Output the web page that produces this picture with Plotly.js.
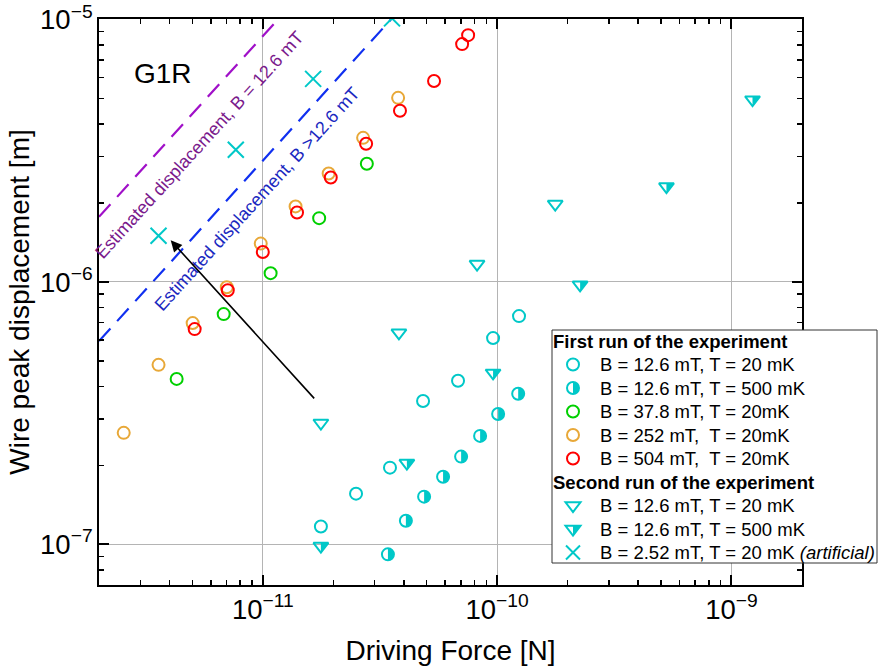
<!DOCTYPE html>
<html>
<head>
<meta charset="utf-8">
<script src="https://cdn.plot.ly/plotly-3.0.1.min.js"></script>
<style>html,body{margin:0;padding:0;background:#fff;}#chart{width:883px;height:671px;}</style>
</head>
<body>
<div id="chart"></div>
<script>
// ---- data ----
// First run
const run1_126_20mK_F  = [1.77e-11, 2.50e-11, 3.49e-11, 4.83e-11, 6.81e-11, 9.61e-11, 1.24e-10];
const run1_126_20mK_D  = [1.17e-7, 1.56e-7, 1.96e-7, 3.52e-7, 4.20e-7, 6.11e-7, 7.41e-7];
const run1_126_500mK_F = [3.42e-11, 4.08e-11, 4.88e-11, 5.88e-11, 7.02e-11, 8.46e-11, 1.01e-10, 1.23e-10];
const run1_126_500mK_D = [9.16e-8, 1.23e-7, 1.52e-7, 1.81e-7, 2.16e-7, 2.59e-7, 3.14e-7, 3.75e-7];
const run1_378_F = [4.29e-12, 6.81e-12, 1.08e-11, 1.74e-11, 2.78e-11];
const run1_378_D = [4.27e-7, 7.54e-7, 1.08e-6, 1.75e-6, 2.82e-6];
const run1_252_F = [2.55e-12, 3.59e-12, 5.02e-12, 7.02e-12, 9.80e-12, 1.38e-11, 1.91e-11, 2.68e-11, 3.78e-11];
const run1_252_D = [2.66e-7, 4.83e-7, 6.97e-7, 9.55e-7, 1.40e-6, 1.94e-6, 2.59e-6, 3.54e-6, 5.03e-6];
const run1_504_F = [5.12e-12, 7.09e-12, 1.00e-11, 1.40e-11, 1.95e-11, 2.76e-11, 3.85e-11, 5.38e-11, 7.09e-11, 7.52e-11];
const run1_504_D = [6.61e-7, 9.30e-7, 1.30e-6, 1.84e-6, 2.50e-6, 3.36e-6, 4.49e-6, 5.83e-6, 8.06e-6, 8.72e-6];
// Second run
const run2_126_20mK_F  = [1.77e-11, 3.81e-11, 8.21e-11, 1.77e-10];
const run2_126_20mK_D  = [2.90e-7, 6.40e-7, 1.17e-6, 1.98e-6];
const run2_126_500mK_F = [1.77e-11, 4.12e-11, 9.61e-11, 2.26e-10, 5.28e-10, 1.23e-9];
const run2_126_500mK_D = [0.985e-7, 2.04e-7, 4.50e-7, 9.75e-7, 2.31e-6, 4.95e-6];
const run2_252_art_F = [3.59e-12, 7.67e-12, 1.64e-11, 3.56e-11];
const run2_252_art_D = [1.50e-6, 3.19e-6, 5.94e-6, 1.01e-5];
// Estimated displacement lines
const est126_F = [2e-12, 1.16e-11];
const est126_D = [1.77e-6, 1e-5];
const estHigh_F = [2e-12, 3.52e-11];
const estHigh_D = [5.95e-7, 1e-5];

// labels
const names = [
  'B = 12.6 mT, T = 20 mK',
  'B = 12.6 mT, T = 500 mK',
  'B = 37.8 mT, T = 20mK',
  'B = 252 mT,\u00a0 T = 20mK',
  'B = 504 mT,\u00a0 T = 20mK',
  'B = 12.6 mT, T = 20 mK',
  'B = 12.6 mT, T = 500 mK',
  'B = 2.52 mT, T = 20 mK <i>(artificial)</i>'
];
const groupTitles = ['First run of the experiment', 'Second run of the experiment'];

const CYAN = '#00c8c8', GREEN = '#00d000', ORANGE = '#e8a838', RED = '#ff0000';
const FONT = 'Arial, "Liberation Sans", sans-serif';

// symbol paths (pixel offsets, y up)
const K = (0.5523 * 6).toFixed(3);
const HALF_CIRCLE = `M0,6 C${K},6 6,${K} 6,0 C6,-${K} ${K},-6 0,-6 Z`;
const HALF_TRI = 'M0,3.25 L7.5,3.25 L0,-6.5 Z';
const TRI = 'M-7.5,3.25 L7.5,3.25 L0,-6.5 Z';
const XPATH = 'M-7,-7 L7,7 M-7,7 L7,-7';

function pshape(xref, yref, xa, ya, path, fill, lineColor, lw) {
  return {type: 'path', xref, yref, xsizemode: 'pixel', ysizemode: 'pixel',
          xanchor: xa, yanchor: ya, path, fillcolor: fill || 'rgba(0,0,0,0)',
          line: {width: lw || 0, color: lineColor || 'rgba(0,0,0,0)'}, layer: 'above'};
}
function cshape(xref, yref, xa, ya, color) {
  return {type: 'circle', xref, yref, xsizemode: 'pixel', ysizemode: 'pixel',
          xanchor: xa, yanchor: ya, x0: -6, x1: 6, y0: -6, y1: 6,
          fillcolor: 'rgba(0,0,0,0)', line: {width: 2, color}, layer: 'above'};
}

function openCircle(x, y, color, name) {
  return {x, y, name, type: 'scatter', mode: 'markers',
    marker: {symbol: 'circle-open', size: 12, color: color, line: {width: 2, color: color}}};
}

const traces = [
  {x: est126_F, y: est126_D, type: 'scatter', mode: 'lines', hoverinfo: 'skip',
   line: {color: '#a010c8', width: 2.2, dash: '17px,10px'}},
  {x: estHigh_F, y: estHigh_D, type: 'scatter', mode: 'lines', hoverinfo: 'skip',
   line: {color: '#1030f0', width: 2.2, dash: '17px,10px'}},
  openCircle(run1_126_20mK_F, run1_126_20mK_D, CYAN, names[0]),
  openCircle(run1_126_500mK_F, run1_126_500mK_D, CYAN, names[1]),
  openCircle(run1_378_F, run1_378_D, GREEN, names[2]),
  openCircle(run1_252_F, run1_252_D, ORANGE, names[3]),
  openCircle(run1_504_F, run1_504_D, RED, names[4]),
  {x: run2_126_20mK_F, y: run2_126_20mK_D, name: names[5], type: 'scatter', mode: 'markers',
   marker: {symbol: 'triangle-down-open', size: 13, color: CYAN, line: {width: 2, color: CYAN}}},
  {x: run2_126_500mK_F, y: run2_126_500mK_D, name: names[6], type: 'scatter', mode: 'markers',
   marker: {symbol: 'triangle-down-open', size: 13, color: CYAN, line: {width: 2, color: CYAN}}},
  {x: run2_252_art_F, y: run2_252_art_D, name: names[7], type: 'scatter', mode: 'markers',
   marker: {symbol: 'x-thin', size: 16, color: CYAN, line: {width: 2, color: CYAN}}}
];

// half fills of the half-filled series, anchored at each data point
const shapes = []
  .concat(run1_126_500mK_F.map((f, i) => pshape('x', 'y', f, run1_126_500mK_D[i], HALF_CIRCLE, CYAN)))
  .concat(run2_126_500mK_F.map((f, i) => pshape('x', 'y', f, run2_126_500mK_D[i], HALF_TRI, CYAN)));

// ---- legend box (drawn with shapes + annotations) ----
const M = {l: 99, r: 81, t: 19, b: 86}, W = 883, H = 671;
const PW = W - M.l - M.r, PH = H - M.t - M.b;
const px = v => (v - M.l) / PW;          // pixel x -> paper
const py = v => 1 - (v - M.t) / PH;      // pixel y -> paper
const LEG = {left: 552, right: 877, top: 330, bottom: 563, row0: 341, rowH: 23.5, symX: 573, textX: 598, titleX: 551};
const annotations = [];
shapes.push({type: 'rect', xref: 'paper', yref: 'paper', layer: 'above',
  x0: px(LEG.left), x1: px(LEG.right), y0: py(LEG.bottom), y1: py(LEG.top),
  fillcolor: '#fff', line: {width: 1, color: '#333'}});
const legendRows = [
  {title: groupTitles[0]},
  {name: names[0], sym: 'circle', color: CYAN},
  {name: names[1], sym: 'halfcircle', color: CYAN},
  {name: names[2], sym: 'circle', color: GREEN},
  {name: names[3], sym: 'circle', color: ORANGE},
  {name: names[4], sym: 'circle', color: RED},
  {title: groupTitles[1]},
  {name: names[5], sym: 'tri', color: CYAN},
  {name: names[6], sym: 'halftri', color: CYAN},
  {name: names[7], sym: 'x', color: CYAN}
];
legendRows.forEach(function (r, i) {
  const yy = py(LEG.row0 + i * LEG.rowH);
  if (r.title) {
    annotations.push({xref: 'paper', yref: 'paper', x: px(LEG.titleX), y: yy, xanchor: 'left', yanchor: 'middle',
      text: '<b>' + r.title + '</b>', showarrow: false, font: {family: FONT, size: 18.5, color: '#000'}});
    return;
  }
  const xx = px(LEG.symX);
  if (r.sym === 'circle' || r.sym === 'halfcircle') shapes.push(cshape('paper', 'paper', xx, yy, r.color));
  if (r.sym === 'halfcircle') shapes.push(pshape('paper', 'paper', xx, yy, HALF_CIRCLE, r.color));
  if (r.sym === 'tri' || r.sym === 'halftri') shapes.push(pshape('paper', 'paper', xx, yy, TRI, null, r.color, 2));
  if (r.sym === 'halftri') shapes.push(pshape('paper', 'paper', xx, yy, HALF_TRI, r.color));
  if (r.sym === 'x') shapes.push(pshape('paper', 'paper', xx, yy, XPATH, null, r.color, 2));
  annotations.push({xref: 'paper', yref: 'paper', x: px(LEG.textX), y: yy, xanchor: 'left', yanchor: 'middle',
    text: r.name, showarrow: false, font: {family: FONT, size: 18.5, color: '#000'}});
});

annotations.push(
  {xref: 'x', yref: 'y', x: -11.427, y: -5.207, text: 'G1R', showarrow: false,
   font: {family: FONT, size: 28, color: '#000'}},
  {xref: 'x', yref: 'y', x: -11.27, y: -5.48, text: 'Estimated displacement, B = 12.6 mT', showarrow: false,
   textangle: -47.7, font: {family: FONT, size: 18, color: '#7a1a8c'}},
  {xref: 'x', yref: 'y', x: -11.0235, y: -5.685, text: 'Estimated displacement, B &gt;12.6 mT', showarrow: false,
   textangle: -47.7, font: {family: FONT, size: 18, color: '#1a28c0'}},
  {xref: 'x', yref: 'y', axref: 'x', ayref: 'y', x: -11.393, y: -5.8416, ax: -10.7748, ay: -6.4493,
   text: '', showarrow: true, arrowhead: 2, arrowsize: 1.4, arrowwidth: 1.6, arrowcolor: '#000'}
);

const axisCommon = {
  type: 'log', dtick: 1, exponentformat: 'power',
  showline: true, linecolor: '#000', linewidth: 2, mirror: 'ticks',
  ticks: 'inside', ticklen: 10, tickwidth: 2, tickcolor: '#000',
  showgrid: true, gridcolor: '#b4b4b4', gridwidth: 1, zeroline: false,
  tickfont: {family: FONT, size: 22, color: '#000'},
  minor: {ticks: 'inside', ticklen: 5, tickwidth: 1.5, tickcolor: '#000', dtick: 'D1', showgrid: false}
};

const layout = {
  width: W, height: H,
  margin: M,
  paper_bgcolor: '#fff', plot_bgcolor: '#fff',
  font: {family: FONT, color: '#000'},
  showlegend: false,
  xaxis: Object.assign({}, axisCommon, {
    range: [Math.log10(2e-12), Math.log10(2e-9)],
    title: {text: 'Driving Force [N]', font: {family: FONT, size: 28, color: '#000'}, standoff: 16}
  }),
  yaxis: Object.assign({}, axisCommon, {
    range: [Math.log10(7e-8), -4.998],
    title: {text: 'Wire peak displacement [m]', font: {family: FONT, size: 28, color: '#000'}, standoff: 2}
  }),
  shapes: shapes,
  annotations: annotations
};

Plotly.newPlot('chart', traces, layout, {staticPlot: true});
</script>
</body>
</html>
